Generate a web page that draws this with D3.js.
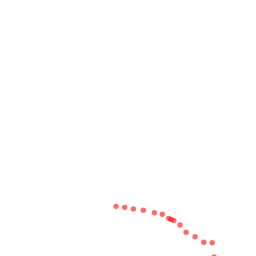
<!DOCTYPE html>
<html><head><meta charset="utf-8">
<script src="https://cdn.jsdelivr.net/npm/d3@7"></script>
<style>html,body{margin:0;padding:0;background:#fff;}svg{display:block;}</style>
</head><body>
<script>
const xValues = [45.3, 48.7, 52.1, 56.0, 60.3, 63.4, 65.9, 66.8, 67.9, 70.3, 72.7, 76.2, 79.6, 82.9, 83.7];
const yValues = [19.4, 19.0, 18.4, 17.9, 16.9, 16.3, 14.7, 14.3, 13.9, 12.1, 9.3, 7.5, 5.4, 5.2, -0.4];

const W = 256, H = 256;
const svg = d3.select("body").append("svg").attr("width", W).attr("height", H);
const x = d3.scaleLinear().domain([0, 100]).range([0, W]);
const y = d3.scaleLinear().domain([0, 100]).range([H, 0]);
const data = xValues.map((v, i) => ({x: v, y: yValues[i]}));
svg.selectAll("circle").data(data).enter().append("circle")
  .attr("cx", d => x(d.x)).attr("cy", d => y(d.y))
  .attr("r", 2.7).attr("fill", "red").attr("fill-opacity", 0.58);
</script>
</body></html>
